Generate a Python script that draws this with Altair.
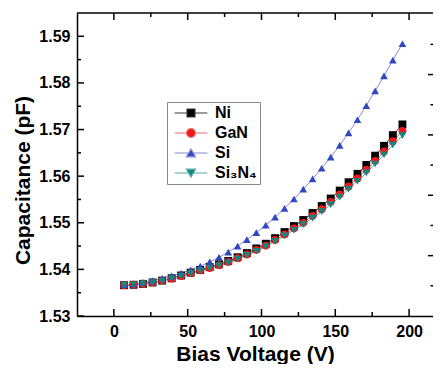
import altair as alt
import pandas as pd

# ---- data ----
voltage = [6.9, 13.3, 19.7, 26.2, 32.7, 39.1, 45.6, 52.0, 58.5, 64.9, 71.2, 77.5, 83.8,
           90.1, 96.5, 102.9, 109.2, 115.6, 122.0, 128.3, 134.6, 140.8, 146.9, 153.0,
           159.0, 165.0, 171.0, 177.0, 183.0, 189.0, 195.5]
ni = [1.5366, 1.5367, 1.5369, 1.5372, 1.5376, 1.5381, 1.5387, 1.5393, 1.5399, 1.5405,
      1.5411, 1.5418, 1.5426, 1.5435, 1.5445, 1.5455, 1.5467, 1.5480, 1.5493, 1.5506,
      1.5521, 1.5536, 1.5552, 1.5569, 1.5587, 1.5605, 1.5624, 1.5644, 1.5665, 1.5688, 1.5711]
gan = [1.5366, 1.5367, 1.5369, 1.5372, 1.5376, 1.5380, 1.5386, 1.5392, 1.5398, 1.5403,
       1.5409, 1.5416, 1.5424, 1.5432, 1.5442, 1.5451, 1.5463, 1.5475, 1.5488, 1.5500,
       1.5515, 1.5529, 1.5545, 1.5561, 1.5578, 1.5595, 1.5614, 1.5633, 1.5653, 1.5675, 1.5697]
si = [1.5367, 1.5369, 1.5372, 1.5376, 1.5381, 1.5386, 1.5392, 1.5399, 1.5407, 1.5416,
      1.5426, 1.5437, 1.5450, 1.5464, 1.5479, 1.5495, 1.5512, 1.5531, 1.5551, 1.5572,
      1.5594, 1.5617, 1.5641, 1.5666, 1.5693, 1.5721, 1.5751, 1.5783, 1.5815, 1.5849, 1.5884]
si3n4 = [1.5366, 1.5367, 1.5369, 1.5372, 1.5375, 1.5380, 1.5385, 1.5391, 1.5397, 1.5402,
         1.5408, 1.5414, 1.5422, 1.5430, 1.5439, 1.5449, 1.5460, 1.5472, 1.5484, 1.5496,
         1.5510, 1.5524, 1.5539, 1.5555, 1.5572, 1.5589, 1.5607, 1.5626, 1.5646, 1.5667, 1.5687]

series_names = ["Ni", "GaN", "Si", "Si₃N₄"]
marker_colors = ["#000000", "#f01818", "#3048c0", "#12877f"]
line_colors = ["#3a3a3a", "#e07070", "#8a8ad8", "#58aaa4"]
marker_shapes = ["square", "circle", "triangle-up", "triangle-down"]
marker_sizes = [62, 58, 92, 92]
legend_shapes = [
    "M-4.1,0H-1M1,0H4.1M-1,-1H1V1H-1Z",
    "M-4.1,0H-1.1M1.1,0H4.1M-1.1,0A1.1,1.1,0,1,0,1.1,0A1.1,1.1,0,1,0,-1.1,0Z",
    "M-4.1,0H-0.59M0.59,0H4.1M0,-1L1.15,0.95L-1.15,0.95Z",
    "M-4.1,0H-0.59M0.59,0H4.1M0,1L1.15,-0.95L-1.15,-0.95Z",
]

x_ticks = [0, 50, 100, 150, 200]
x_minor = [25, 75, 125, 175]
y_ticks = [1.53, 1.54, 1.55, 1.56, 1.57, 1.58, 1.59]
y_minor = [1.535, 1.545, 1.555, 1.565, 1.575, 1.585]
r_major = [1, 2, 3, 4]
r_minor = [0.5, 1.5, 2.5, 3.5, 4.5]

X_DOMAIN = [-25, 216.2]
Y_DOMAIN = [1.53, 1.595]
R_DOMAIN = [0, 5.02]
W, H = 356, 303
FONT = "Liberation Sans"

# ---- tables ----
rows = []
k = 0
for name, vals in zip(series_names, [ni, gan, si, si3n4]):
    for v, c in zip(voltage, vals):
        rows.append({"series": name, "x": v, "y": c, "k": k})
        k += 1
df = pd.DataFrame(rows)

x_axis = alt.Axis(values=x_ticks, format="d", title="Bias Voltage (V)", grid=False, ticks=False,
                  domainColor="black", domainWidth=1.5, labelFont=FONT, labelFontSize=16,
                  labelFontWeight="bold", labelColor="black", labelPadding=7,
                  titleFont=FONT, titleFontSize=21, titleFontWeight="bold", titleColor="black",
                  titleY=27)
y_axis = alt.Axis(values=y_ticks, format=".2f", title="Capacitance (pF)", grid=False, ticks=False,
                  domainColor="black", domainWidth=1.5, labelFont=FONT, labelFontSize=16,
                  labelFontWeight="bold", labelColor="black", labelPadding=7,
                  titleFont=FONT, titleFontSize=21, titleFontWeight="bold", titleColor="black",
                  titlePadding=5, titleY=167)


def X():
    return alt.X("x:Q", scale=alt.Scale(domain=X_DOMAIN, nice=False, zero=False), axis=x_axis)


def Y():
    return alt.Y("y:Q", scale=alt.Scale(domain=Y_DOMAIN, nice=False, zero=False), axis=y_axis)


lines = alt.Chart(df).mark_line(strokeWidth=1).encode(
    x=X(), y=Y(),
    stroke=alt.Stroke("series:N", scale=alt.Scale(domain=series_names, range=line_colors), legend=None),
)

points = alt.Chart(df).mark_point(filled=True, opacity=1, strokeWidth=0).encode(
    x=X(), y=Y(),
    color=alt.Color("series:N", scale=alt.Scale(domain=series_names, range=marker_colors), legend=None),
    shape=alt.Shape("series:N", scale=alt.Scale(domain=series_names, range=marker_shapes), legend=None),
    size=alt.Size("series:N", scale=alt.Scale(domain=series_names, range=marker_sizes), legend=None),
    order=alt.Order("k:Q"),
)

tick_style = dict(color="black", strokeWidth=1.5)
xb_major = alt.Chart(pd.DataFrame({"x": x_ticks})).mark_rule(**tick_style).encode(
    x=X(), y=alt.value(H), y2=alt.value(H - 7))
xb_minor = alt.Chart(pd.DataFrame({"x": x_minor})).mark_rule(**tick_style).encode(
    x=X(), y=alt.value(H), y2=alt.value(H - 4))
xt_major = alt.Chart(pd.DataFrame({"x": x_ticks})).mark_rule(**tick_style).encode(
    x=X(), y=alt.value(0), y2=alt.value(7))
xt_minor = alt.Chart(pd.DataFrame({"x": x_minor})).mark_rule(**tick_style).encode(
    x=X(), y=alt.value(0), y2=alt.value(4))
yl_major = alt.Chart(pd.DataFrame({"y": y_ticks})).mark_rule(**tick_style).encode(
    y=Y(), x=alt.value(0), x2=alt.value(7))
yl_minor = alt.Chart(pd.DataFrame({"y": y_minor})).mark_rule(**tick_style).encode(
    y=Y(), x=alt.value(0), x2=alt.value(4))
top_line = alt.Chart(pd.DataFrame({"x": [0]})).mark_rule(**tick_style).encode(
    x=alt.value(0), x2=alt.value(W), y=alt.value(0))

main = alt.layer(lines, points, xb_major, xb_minor, xt_major, xt_minor, yl_major, yl_minor, top_line)

r_scale = alt.Scale(domain=R_DOMAIN, nice=False, zero=False)
r_major_l = alt.Chart(pd.DataFrame({"r": r_major})).mark_rule(**tick_style).encode(
    y=alt.Y("r:Q", scale=r_scale, axis=None), x=alt.value(W - 5), x2=alt.value(W))
r_minor_l = alt.Chart(pd.DataFrame({"r": r_minor})).mark_rule(**tick_style).encode(
    y=alt.Y("r:Q", scale=r_scale, axis=None), x=alt.value(W - 2.5), x2=alt.value(W))
right = alt.layer(r_major_l, r_minor_l)

leg = alt.Legend(orient="none", legendX=90, legendY=89, title=None, padding=3,
                 strokeColor="#888888", fillColor="white", labelFont=FONT, labelFontSize=16,
                 labelFontWeight="bold", labelColor="black", symbolSize=64, symbolStrokeWidth=1.2,
                 symbolOffset=13, labelOffset=16, rowPadding=4)
legend_layer = alt.Chart(pd.DataFrame({"series": series_names})).transform_filter("false").mark_point(
    filled=True, opacity=1).encode(
    fill=alt.Fill("series:N", scale=alt.Scale(domain=series_names, range=marker_colors), legend=leg),
    stroke=alt.Stroke("series:N", scale=alt.Scale(domain=series_names, range=line_colors), legend=leg),
    shape=alt.Shape("series:N", scale=alt.Scale(domain=series_names, range=legend_shapes), legend=leg),
)

chart = alt.layer(main, right, legend_layer).resolve_scale(
    y="independent", shape="independent", stroke="independent", fill="independent"
).properties(
    width=W, height=H, background="white",
    autosize=alt.AutoSizeParams(type="none"),
    padding={"left": 69, "top": 5, "right": 0, "bottom": 48},
).configure_view(stroke=None)

chart.save("out.html", embed_options={"renderer": "svg", "actions": False})
